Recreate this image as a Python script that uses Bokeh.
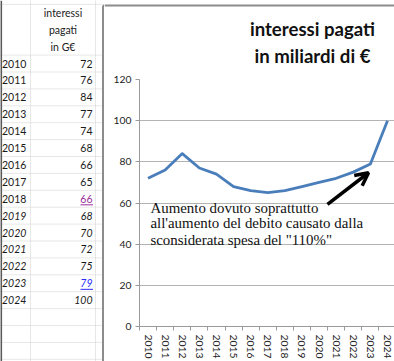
from bokeh.plotting import figure
from bokeh.models import Range1d, FixedTicker, Label, Arrow, OpenHead, ColumnDataSource
from bokeh.layouts import row, column
from bokeh.embed import file_html
from bokeh.resources import INLINE
from bokeh.core.properties import value

# ---------------- data ----------------
years = [2010, 2011, 2012, 2013, 2014, 2015, 2016, 2017, 2018, 2019, 2020, 2021, 2022, 2023, 2024]
interessi = [72, 76, 84, 77, 74, 68, 66, 65, 66, 68, 70, 72, 75, 79, 100]
italic_from = 2019
linked_colors = {2018: "#9a2f9a", 2023: "#2b2bff"}
header_lines = ["interessi", "pagati", "in G€"]
title_lines = ["interessi pagati", "in miliardi di €"]
note_lines = ["Aumento dovuto soprattutto",
              "all'aumento del debito causato dalla",
              'sconsiderata spesa del "110%"']
y_ticks = [0, 20, 40, 60, 80, 100, 120]

FONT = "Lato"
BORDER = "#8c8c8c"
COMMON = dict(output_backend="svg", toolbar_location=None, outline_line_color=None,
              background_fill_color="white", border_fill_color="white")

# ---------------- table (left) ----------------
t = figure(width=104, height=361, x_range=Range1d(0, 104), y_range=Range1d(17.63, -3.73),
           min_border=0, x_axis_location=None, y_axis_location=None, **COMMON)
t.grid.visible = False
t.frame_align = False

rows = list(range(len(years)))
sep_rows = [-3.5] + [r - 0.5 for r in range(0, 19)]
t.segment(x0=0, x1=101, y0=sep_rows, y1=sep_rows, line_color="#cfcfcf", line_width=1, line_dash="1 1")
t.segment(x0=[30, 95], x1=[30, 95], y0=-3.73, y1=17.63, line_color="#cfcfcf", line_width=1, line_dash="1 1")
t.segment(x0=[0.6], x1=[0.6], y0=-3.73, y1=17.63, line_color="#5a5a5a", line_width=2)
# chart-area border (left part)
t.segment(x0=[102.5, 102.5], x1=[102.5, 104], y0=[-3.43, -3.43], y1=[17.63, -3.43],
          line_color=BORDER, line_width=2)

hdr_rows = [-3, -2, -1]
t.text(x=62.5, y=hdr_rows, text=header_lines, text_align="center", text_baseline="middle",
       text_font=value(FONT), text_font_size=value("10.5px"), text_color="#222222")

def tsrc(cond):
    idx = [i for i, y in enumerate(years) if cond(y)]
    return ColumnDataSource(dict(
        row=[rows[i] for i in idx],
        year=[str(years[i]) for i in idx],
        val=[str(interessi[i]) for i in idx],
        col=[linked_colors.get(years[i], "#1a1a1a") for i in idx],
    ))

for cond, style in [(lambda y: y < italic_from, "normal"), (lambda y: y >= italic_from, "italic")]:
    s = tsrc(cond)
    t.text(x=1.5, y="row", text="year", source=s, text_align="left", text_baseline="middle",
           text_font=value(FONT), text_font_size=value("10.5px"), text_font_style=style, text_color="#1a1a1a")
    t.text(x=92, y="row", text="val", source=s, text_align="right", text_baseline="middle",
           text_font=value(FONT), text_font_size=value("10.5px"), text_font_style=style, text_color="col")

ul_rows = [rows[years.index(y)] + 0.36 for y in linked_colors]
ul_cols = [linked_colors[y] for y in linked_colors]
t.segment(x0=80, x1=92.5, y0=ul_rows, y1=ul_rows, line_color=ul_cols, line_width=1)

# ---------------- title strip (top right) ----------------
h = figure(width=290, height=70, x_range=Range1d(104, 394), y_range=Range1d(70, 0),
           min_border=0, x_axis_location=None, y_axis_location=None, **COMMON)
h.grid.visible = False
h.frame_align = False
h.segment(x0=[104], x1=[394], y0=[5], y1=[5], line_color=BORDER, line_width=2)
h.text(x=312, y=[28, 55], text=title_lines, text_align="center", text_baseline="middle",
       text_font=value(FONT), text_font_style="bold", text_font_size=value("18.6px"),
       text_color="#111111")

# ---------------- chart (bottom right) ----------------
p = figure(width=290, height=291, x_range=Range1d(2009.5, 2024.41), y_range=Range1d(0, 120),
           min_border_left=35, min_border_right=0, min_border_top=9, min_border_bottom=33,
           **COMMON)
p.frame_align = False

p.line(years, interessi, line_color="#4a7ebb", line_width=2.8, line_join="round")

p.xgrid.visible = False
p.ygrid.ticker = FixedTicker(ticks=y_ticks)
p.ygrid.grid_line_color = "#b3b3b3"
p.ygrid.grid_line_width = 1

p.yaxis.ticker = FixedTicker(ticks=y_ticks)
p.yaxis.axis_line_color = "#9a9a9a"
p.yaxis.major_tick_line_color = "#9a9a9a"
p.yaxis.major_tick_out = 4
p.yaxis.major_tick_in = 0
p.yaxis.minor_tick_line_color = None
p.yaxis.major_label_standoff = 4
p.yaxis.major_label_text_font = FONT
p.yaxis.major_label_text_font_size = "10.3px"
p.yaxis.major_label_text_color = "#222222"

p.xaxis.ticker = FixedTicker(ticks=years, minor_ticks=[y - 0.5 for y in years] + [years[-1] + 0.5])
p.xaxis.axis_line_color = "#9a9a9a"
p.xaxis.major_tick_line_color = None
p.xaxis.major_tick_out = 0
p.xaxis.major_tick_in = 0
p.xaxis.minor_tick_line_color = "#9a9a9a"
p.xaxis.minor_tick_out = 4
p.xaxis.minor_tick_in = 0
p.xaxis.major_label_orientation = "vertical"
p.xaxis.major_label_standoff = 4
p.xaxis.major_label_text_font = FONT
p.xaxis.major_label_text_font_size = "10.3px"
p.xaxis.major_label_text_color = "#222222"

# annotation
for txt, yy in zip(note_lines, [57.8, 50.1, 41.9]):
    p.add_layout(Label(x=2010.14, y=yy, text=txt, text_align="left", text_baseline="middle",
                       text_font="Liberation Serif", text_font_size="14.9px", text_color="#111111"))

p.add_layout(Arrow(x_start=2020.49, y_start=59.3, x_end=2022.89, y_end=74.7,
                   line_color="black", line_width=3.5,
                   end=OpenHead(size=13, line_color="black", line_width=3.5)))

layout = row(t, column(h, p, spacing=0), spacing=0)
open("out.html", "w").write(file_html(layout, INLINE))
